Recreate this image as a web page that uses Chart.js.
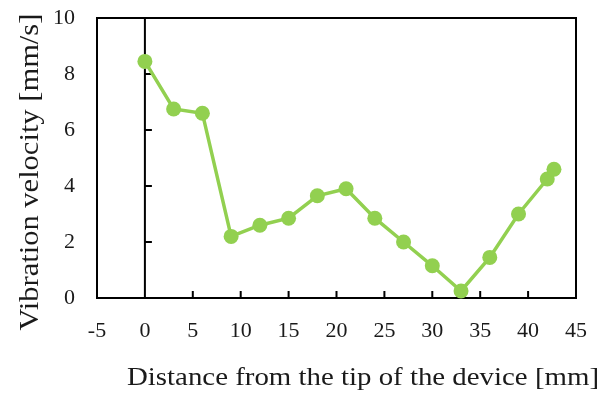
<!DOCTYPE html>
<html>
<head>
<meta charset="utf-8">
<script src="https://cdn.jsdelivr.net/npm/chart.js@4/dist/chart.umd.min.js"></script>
<style>
  html, body { margin: 0; padding: 0; background: #ffffff; }
  #wrap { width: 603px; height: 394px; }
</style>
</head>
<body>
<div id="wrap"><canvas id="c" width="603" height="394"></canvas></div>
<script>
// Measured vibration velocity along the device
const distance = [0, 3, 6, 9, 12, 15, 18, 21, 24, 27, 30, 33, 36, 39, 42, 42.7];
const velocity = [8.45, 6.75, 6.6, 2.2, 2.6, 2.85, 3.65, 3.9, 2.85, 2.0, 1.15, 0.25, 1.45, 3.0, 4.25, 4.6];

const xTicks = [-5, 0, 5, 10, 15, 20, 25, 30, 35, 40, 45];
const yTicks = [0, 2, 4, 6, 8, 10];

const xTitle = 'Distance from the tip of the device [mm]';
const yTitle = 'Vibration velocity [mm/s]';

const SERIF = '"Liberation Serif", "Times New Roman", serif';
const GREEN = '#92D050';
const INK = '#1a1a1a';

// Plot frame, the vertical axis at x = 0 with inward ticks, and the axis titles
const framePlugin = {
  id: 'frame',
  beforeDatasetsDraw(chart) {
    const { ctx, chartArea: a, scales: { x, y } } = chart;
    ctx.save();
    ctx.strokeStyle = '#000000';
    ctx.lineWidth = 2;
    ctx.strokeRect(a.left, a.top, a.right - a.left, a.bottom - a.top);

    const x0 = x.getPixelForValue(0);
    ctx.beginPath();
    ctx.moveTo(x0, a.top);
    ctx.lineTo(x0, a.bottom);
    yTicks.forEach(v => {
      const py = y.getPixelForValue(v);
      ctx.moveTo(x0, py);
      ctx.lineTo(x0 + 7, py);
    });
    xTicks.forEach(v => {
      const px = x.getPixelForValue(v);
      ctx.moveTo(px, a.bottom);
      ctx.lineTo(px, a.bottom - 7);
    });
    ctx.stroke();
    ctx.restore();
  },
  afterDraw(chart) {
    const { ctx } = chart;
    ctx.save();
    ctx.fillStyle = INK;
    ctx.textAlign = 'center';
    ctx.textBaseline = 'middle';

    ctx.save();
    ctx.font = '26px ' + SERIF;
    ctx.translate(363, 378);
    ctx.scale(1.11, 1);
    ctx.fillText(xTitle, 0, 0);
    ctx.restore();

    ctx.save();
    ctx.font = '27px ' + SERIF;
    ctx.translate(31, 172);
    ctx.rotate(-Math.PI / 2);
    ctx.scale(1.13, 1);
    ctx.fillText(yTitle, 0, 0);
    ctx.restore();

    ctx.restore();
  }
};

new Chart(document.getElementById('c'), {
  type: 'scatter',
  data: {
    datasets: [{
      data: distance.map((d, i) => ({ x: d, y: velocity[i] })),
      showLine: true,
      borderColor: GREEN,
      backgroundColor: GREEN,
      borderWidth: 3.5,
      pointRadius: 7.5,
      pointHoverRadius: 7.5,
      pointBorderWidth: 0,
      clip: false
    }]
  },
  options: {
    responsive: false,
    animation: false,
    events: [],
    layout: { padding: { top: 18, right: 27, left: 0, bottom: 0 } },
    plugins: { legend: { display: false }, tooltip: { enabled: false } },
    scales: {
      x: {
        type: 'linear',
        min: -5,
        max: 45,
        afterBuildTicks: s => { s.ticks = xTicks.map(v => ({ value: v })); },
        afterFit: s => { s.height = 96; s.paddingLeft = 0; s.paddingRight = 0; },
        grid: { display: false, drawTicks: false },
        border: { display: false },
        ticks: { color: INK, font: { family: SERIF, size: 22 }, padding: 20, maxRotation: 0 }
      },
      y: {
        type: 'linear',
        min: 0,
        max: 10,
        afterBuildTicks: s => { s.ticks = yTicks.map(v => ({ value: v })); },
        afterFit: s => { s.width = 97; s.paddingTop = 0; s.paddingBottom = 0; },
        grid: { display: false, drawTicks: false },
        border: { display: false },
        ticks: { color: INK, font: { family: SERIF, size: 22 }, padding: 22 }
      }
    }
  },
  plugins: [framePlugin]
});
</script>
</body>
</html>
